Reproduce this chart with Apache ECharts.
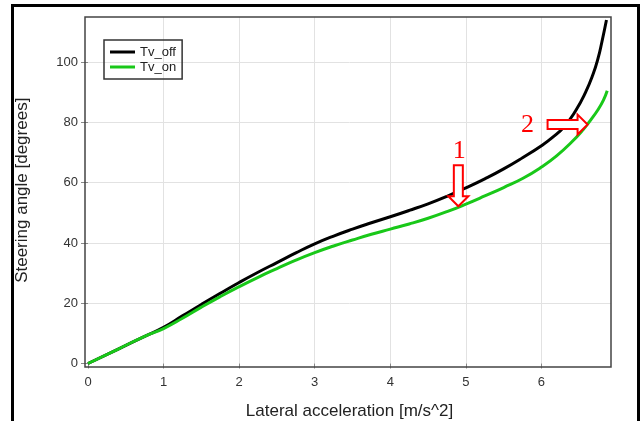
<!DOCTYPE html>
<html>
<head>
<meta charset="utf-8">
<script src="https://cdn.jsdelivr.net/npm/echarts@6/dist/echarts.min.js"></script>
<style>
  html, body { margin: 0; padding: 0; background: #fff; }
  #chart { width: 643px; height: 421px; }
</style>
</head>
<body>
<div id="chart"></div>
<script>
// steering angle vs lateral acceleration, torque vectoring off / on
var seriesNames = ['Tv_off', 'Tv_on'];

var accelOff = [0, 0.4, 0.75, 1.0, 1.25, 1.5, 1.75, 2.0, 2.25, 2.5, 2.75, 3.0, 3.25, 3.5, 3.75, 4.0, 4.25, 4.5, 4.75, 5.0, 5.25, 5.5, 5.75, 6.0, 6.15, 6.3, 6.45, 6.58, 6.68, 6.75, 6.8, 6.86];
var angleOff = [0, 4.8, 9.0, 12.0, 15.8, 19.6, 23.3, 26.9, 30.3, 33.5, 36.7, 39.7, 42.3, 44.6, 46.7, 48.7, 50.8, 53.0, 55.5, 58.3, 61.3, 64.6, 68.3, 72.3, 75.1, 78.6, 83.8, 89.8, 95.8, 101.4, 106.8, 114.0];

var accelOn = [0, 0.4, 0.75, 1.0, 1.25, 1.5, 1.75, 2.0, 2.25, 2.5, 2.75, 3.0, 3.25, 3.5, 3.75, 4.0, 4.25, 4.5, 4.75, 5.0, 5.25, 5.5, 5.75, 6.0, 6.2, 6.4, 6.55, 6.65, 6.75, 6.82, 6.87];
var angleOn = [0, 4.8, 9.0, 11.6, 15.0, 18.7, 22.2, 25.5, 28.6, 31.5, 34.3, 36.8, 39.0, 41.0, 42.9, 44.6, 46.3, 48.2, 50.4, 52.9, 55.6, 58.4, 61.4, 65.2, 68.9, 73.5, 77.6, 80.8, 84.3, 87.4, 90.5];

// annotation arrows: label, tip position in data units, direction
var arrowLabels = ['1', '2'];
var arrowTipX = [4.9, 6.61];
var arrowTipY = [52.2, 79.3];
var arrowDirs = ['down', 'right'];

function pairs(xs, ys) {
    var out = [];
    for (var i = 0; i < xs.length; i++) out.push([xs[i], ys[i]]);
    return out;
}

var myChart = echarts.init(document.getElementById('chart'));

var option = {
    backgroundColor: '#fff',
    animation: false,
    grid: {
        left: 88,
        right: 32,
        top: 17,
        bottom: 57.5,
        outerBoundsMode: 'none'
    },
    legend: {
        left: 104,
        top: 40,
        orient: 'vertical',
        icon: 'rect',
        itemWidth: 25,
        itemHeight: 3,
        itemGap: 1,
        padding: [5, 6, 5, 6],
        borderColor: '#333',
        borderWidth: 1.5,
        textStyle: {
            fontFamily: 'Liberation Sans',
            fontSize: 13,
            lineHeight: 14,
            color: '#222'
        },
        data: seriesNames
    },
    xAxis: {
        type: 'value',
        min: 0,
        max: 6.92,
        interval: 1,
        name: 'Lateral acceleration [m/s^2]',
        nameLocation: 'middle',
        nameGap: 39,
        nameTextStyle: { fontFamily: 'Liberation Sans', fontSize: 17, color: '#222' },
        axisLine: { show: false },
        axisTick: { show: true, length: 5, lineStyle: { color: '#888' } },
        axisLabel: {
            fontFamily: 'Liberation Sans', fontSize: 13, color: '#333', margin: 12,
            showMaxLabel: false
        },
        splitLine: { show: true, showMinLine: false, showMaxLine: false, lineStyle: { color: '#e2e2e2', width: 1 } }
    },
    yAxis: {
        type: 'value',
        min: 0,
        max: 115,
        interval: 20,
        name: 'Steering angle [degrees]',
        nameLocation: 'middle',
        nameGap: 57,
        nameTextStyle: { fontFamily: 'Liberation Sans', fontSize: 17, color: '#222' },
        axisLine: { show: false },
        axisTick: { show: true, length: 7, lineStyle: { color: '#888' } },
        axisLabel: {
            fontFamily: 'Liberation Sans', fontSize: 13, color: '#333', margin: 10,
            showMaxLabel: false
        },
        splitLine: { show: true, showMinLine: false, showMaxLine: false, lineStyle: { color: '#e2e2e2', width: 1 } }
    },
    series: [
        {
            name: seriesNames[0],
            type: 'line',
            data: pairs(accelOff, angleOff),
            showSymbol: false,
            smooth: 0.5,
            itemStyle: { color: '#000' },
            lineStyle: { color: '#000', width: 3 }
        },
        {
            name: seriesNames[1],
            type: 'line',
            data: pairs(accelOn, angleOn),
            showSymbol: false,
            smooth: 0.5,
            itemStyle: { color: '#19c819' },
            lineStyle: { color: '#19c819', width: 3 }
        }
    ]
};

myChart.setOption(option);

// frames and annotation arrows
var graphics = [
    {
        type: 'rect',
        shape: { x: 12.5, y: 5.5, width: 626, height: 440 },
        style: { fill: 'none', stroke: '#000', lineWidth: 3 },
        z: 100
    },
    {
        type: 'rect',
        shape: { x: 85, y: 17, width: 526, height: 350 },
        style: { fill: 'none', stroke: '#444', lineWidth: 1.5 },
        z: 100
    }
];

for (var i = 0; i < arrowLabels.length; i++) {
    var tip = myChart.convertToPixel({ gridIndex: 0 }, [arrowTipX[i], arrowTipY[i]]);
    var pts, labelPos;
    if (arrowDirs[i] === 'down') {
        pts = [[-4.5, -41], [4.5, -41], [4.5, -10], [10, -10], [0, 0], [-10, -10], [-4.5, -10]];
        labelPos = [1, -55];
    } else {
        pts = [[-40, -4.5], [-10, -4.5], [-10, -10], [0, 0], [-10, 10], [-10, 4.5], [-40, 4.5]];
        labelPos = [-60, 1];
    }
    graphics.push({
        type: 'polygon',
        x: tip[0],
        y: tip[1],
        shape: { points: pts },
        style: { fill: '#fff', stroke: '#ff0000', lineWidth: 2 },
        z: 110
    });
    graphics.push({
        type: 'text',
        x: tip[0] + labelPos[0],
        y: tip[1] + labelPos[1],
        style: {
            text: arrowLabels[i],
            fill: '#ff0000',
            font: '26px "Liberation Serif"',
            align: 'center',
            verticalAlign: 'middle'
        },
        z: 110
    });
}

myChart.setOption({ graphic: graphics });
</script>
</body>
</html>
